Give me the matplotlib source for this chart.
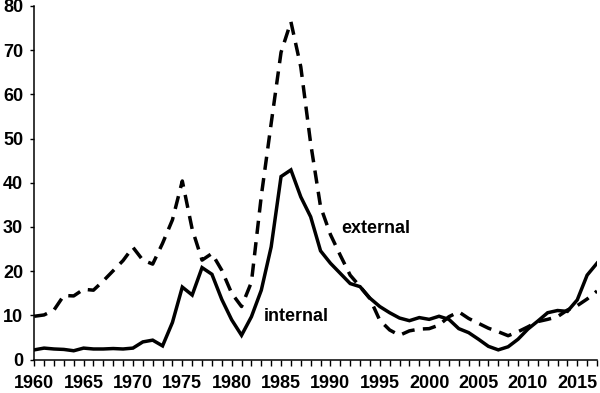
import matplotlib
matplotlib.use("Agg")
import matplotlib.pyplot as plt
from matplotlib.ticker import MultipleLocator

years = list(range(1960, 2018))

internal = [2.2, 2.6, 2.4, 2.3, 2.0, 2.6, 2.4, 2.4, 2.5, 2.4,
            2.6, 4.0, 4.4, 3.1, 8.4, 16.4, 14.6, 20.8, 19.3, 13.6,
            9.0, 5.5, 9.7, 15.7, 25.5, 41.4, 42.9, 36.8, 32.3, 24.6,
            21.8, 19.5, 17.2, 16.5, 13.9, 12.0, 10.6, 9.4, 8.8, 9.5,
            9.1, 9.8, 9.1, 7.0, 6.1, 4.6, 3.0, 2.2, 2.9, 4.6,
            6.9, 8.7, 10.6, 11.1, 10.9, 13.5, 19.1, 21.8]

external = [9.8, 10.1, 11.2, 14.5, 14.4, 15.9, 15.7, 17.8, 20.1, 22.4,
            25.4, 22.5, 21.6, 26.3, 31.6, 40.4, 29.5, 22.5, 24.0, 20.2,
            15.0, 12.0, 17.5, 37.0, 53.4, 69.5, 76.4, 66.2, 48.9, 34.6,
            28.3, 23.6, 19.1, 16.5, 13.8, 8.9, 6.7, 5.5, 6.5, 6.9,
            7.0, 7.8, 9.7, 10.8, 9.3, 8.2, 7.1, 6.3, 5.4, 6.3,
            7.4, 8.6, 9.1, 9.7, 11.2, 12.2, 13.7, 15.5]

series_labels = ["internal", "external"]

plt.rcParams['font.family'] = ['Liberation Sans', 'DejaVu Sans']
plt.rcParams['font.weight'] = 'bold'

fig = plt.figure(figsize=(6.0, 3.93), dpi=100)
ax = fig.add_axes([0.057, 0.085, 0.938, 0.9])

ax.plot(years, internal, color='black', lw=2.5, solid_joinstyle='miter')
ax.plot(years, external, color='black', lw=2.5, dashes=(3.8, 2.4))

ax.set_xlim(1960, 2017)
ax.set_ylim(0, 80)
ax.xaxis.set_major_locator(MultipleLocator(5))
ax.xaxis.set_minor_locator(MultipleLocator(1))
ax.yaxis.set_major_locator(MultipleLocator(10))

for s in ['top', 'right']:
    ax.spines[s].set_visible(False)
for s in ['left', 'bottom']:
    ax.spines[s].set_linewidth(1.1)
    ax.spines[s].set_color('black')

ax.tick_params(axis='x', which='both', direction='out', length=4, width=1,
               labelsize=13, pad=7)
ax.tick_params(axis='y', which='major', direction='out', length=3, width=1,
               labelsize=13, pad=5)
for lab in ax.get_xticklabels() + ax.get_yticklabels():
    lab.set_fontweight('bold')

ax.text(1983.2, 9.7, series_labels[0], fontsize=13, fontweight='bold',
        ha='left', va='center')
ax.text(1991.1, 29.7, series_labels[1], fontsize=13, fontweight='bold',
        ha='left', va='center')

fig.savefig("out.png", dpi=100)
